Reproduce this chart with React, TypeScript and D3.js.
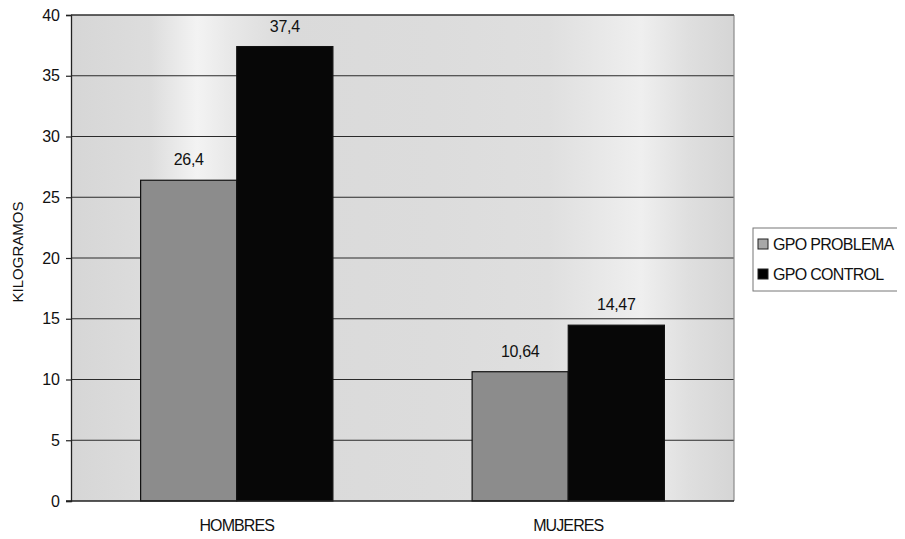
import React, { useEffect, useRef } from 'react';
import * as d3 from 'd3';

const categories = ['HOMBRES', 'MUJERES'];
const seriesNames = ['GPO PROBLEMA', 'GPO CONTROL'];
const problemaValues = [26.4, 10.64];
const controlValues = [37.4, 14.47];
const valueLabels = [['26,4', '10,64'], ['37,4', '14,47']];
const yTicks = [0, 5, 10, 15, 20, 25, 30, 35, 40];

const W = 905;
const H = 539;

export default function App() {
  const svgRef = useRef<SVGSVGElement>(null);

  useEffect(() => {
    if (!svgRef.current) return;
    const svg = d3.select(svgRef.current);
    svg.selectAll('*').remove();

    const plot = { left: 71, right: 734, top: 15, bottom: 501 };
    const font = 'Arial, "Liberation Sans", sans-serif';

    const x0 = d3.scaleBand<string>()
      .domain(categories)
      .range([plot.left, plot.right])
      .paddingInner(0.42)
      .paddingOuter(0.21);
    const x1 = d3.scaleBand<string>()
      .domain(seriesNames)
      .range([0, x0.bandwidth()]);
    const y = d3.scaleLinear().domain([0, 40]).range([plot.bottom, plot.top]);

    const colors: Record<string, string> = {
      'GPO PROBLEMA': '#8c8c8c',
      'GPO CONTROL': '#070707',
    };

    // scanned-looking background: light bands in a grey field
    const defs = svg.append('defs');
    const grad = defs.append('linearGradient')
      .attr('id', 'bg')
      .attr('x1', '0%').attr('x2', '100%').attr('y1', '0%').attr('y2', '0%');
    [
      [0, '#d6d6d6'], [0.12, '#dddddd'], [0.19, '#f3f3f3'], [0.24, '#e8e8e8'],
      [0.33, '#dadada'], [0.55, '#dcdcdc'], [0.72, '#dfdfdf'], [0.86, '#efefef'],
      [0.93, '#dfdfdf'], [1, '#d5d5d5'],
    ].forEach(([o, c]) => {
      grad.append('stop').attr('offset', o as number).attr('stop-color', c as string);
    });

    svg.append('rect').attr('width', W).attr('height', H).attr('fill', '#ffffff');

    svg.append('rect')
      .attr('x', plot.left).attr('y', plot.top)
      .attr('width', plot.right - plot.left).attr('height', plot.bottom - plot.top)
      .attr('fill', 'url(#bg)');

    // gridlines
    svg.append('g')
      .selectAll('line')
      .data(yTicks.filter(d => d > 0))
      .join('line')
      .attr('x1', plot.left).attr('x2', plot.right)
      .attr('y1', d => y(d)).attr('y2', d => y(d))
      .attr('stroke', '#2a2a2a').attr('stroke-width', 1.1);

    // right border is lighter
    svg.append('line')
      .attr('x1', plot.right).attr('x2', plot.right)
      .attr('y1', plot.top).attr('y2', plot.bottom)
      .attr('stroke', '#8a8a8a').attr('stroke-width', 1.2);

    // bars
    const seriesValues = [problemaValues, controlValues];
    const g = svg.append('g');
    categories.forEach((cat, ci) => {
      seriesNames.forEach((s, si) => {
        const v = seriesValues[si][ci];
        const bx = (x0(cat) ?? 0) + (x1(s) ?? 0);
        g.append('rect')
          .attr('x', bx).attr('y', y(v))
          .attr('width', x1.bandwidth()).attr('height', y(0) - y(v))
          .attr('fill', colors[s])
          .attr('stroke', '#111').attr('stroke-width', 1.2);
        g.append('text')
          .attr('x', bx + x1.bandwidth() / 2)
          .attr('y', y(v) - 15)
          .attr('text-anchor', 'middle')
          .attr('font-family', font).attr('font-size', 16)
          .attr('letter-spacing', -0.3)
          .attr('fill', '#111')
          .text(valueLabels[si][ci]);
      });
    });

    // y axis
    const yAxis = svg.append('g')
      .attr('transform', `translate(${plot.left},0)`)
      .call(d3.axisLeft(y).tickValues(yTicks).tickSize(5).tickPadding(6).tickFormat(d3.format('d')));
    yAxis.select('.domain').attr('stroke', '#222').attr('stroke-width', 1.3);
    yAxis.selectAll('.tick line').attr('stroke', '#222').attr('stroke-width', 1.2);
    yAxis.selectAll('.tick text')
      .attr('font-family', font).attr('font-size', 16).attr('fill', '#111');

    // top border
    svg.append('line')
      .attr('x1', plot.left).attr('x2', plot.right)
      .attr('y1', plot.top).attr('y2', plot.top)
      .attr('stroke', '#333').attr('stroke-width', 1.2);

    // x axis
    svg.append('line')
      .attr('x1', plot.left - 5).attr('x2', plot.right)
      .attr('y1', plot.bottom).attr('y2', plot.bottom)
      .attr('stroke', '#222').attr('stroke-width', 1.3);
    svg.append('g')
      .selectAll('text')
      .data(categories)
      .join('text')
      .attr('x', d => (x0(d) ?? 0) + x0.bandwidth() / 2)
      .attr('y', 531)
      .attr('text-anchor', 'middle')
      .attr('font-family', font).attr('font-size', 16)
      .attr('letter-spacing', -0.9)
      .attr('fill', '#111')
      .text(d => d);

    // y axis title
    svg.append('text')
      .attr('transform', `translate(23,${252}) rotate(-90)`)
      .attr('text-anchor', 'middle')
      .attr('font-family', font).attr('font-size', 15)
      .attr('fill', '#111')
      .text('KILOGRAMOS');

    // legend
    const legend = svg.append('g').attr('transform', 'translate(753,228)');
    legend.append('rect')
      .attr('width', 146).attr('height', 63)
      .attr('fill', '#fff').attr('stroke', '#777').attr('stroke-width', 1);
    seriesNames.forEach((s, i) => {
      const row = legend.append('g').attr('transform', `translate(5,${16 + i * 30})`);
      row.append('rect')
        .attr('x', 0).attr('y', -5).attr('width', 10).attr('height', 10)
        .attr('fill', i === 0 ? '#a8a8a8' : '#000').attr('stroke', '#222').attr('stroke-width', 1);
      row.append('text')
        .attr('x', 15).attr('y', 6)
        .attr('font-family', font).attr('font-size', 16)
        .attr('letter-spacing', -0.7)
        .attr('fill', '#111')
        .text(s);
    });
  }, []);

  return (
    <div style={{ width: W, height: H }}>
      <svg ref={svgRef} width={W} height={H} style={{ display: 'block', marginLeft: -8, marginTop: -8 }} />
    </div>
  );
}
